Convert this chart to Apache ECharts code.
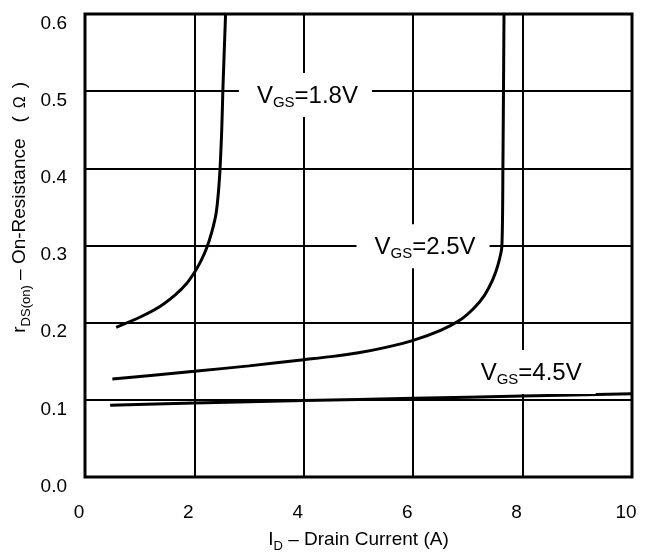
<!DOCTYPE html>
<html>
<head>
<meta charset="utf-8">
<script src="https://cdn.jsdelivr.net/npm/echarts@6/dist/echarts.min.js"></script>
<style>
html,body{margin:0;padding:0;background:#fff;}
#chart{width:646px;height:558px;}
</style>
</head>
<body>
<div id="chart"></div>
<script>
// ---- data (I_D in A, r_DS(on) in ohm) ----
const xTicks = [0, 2, 4, 6, 8, 10];
const yTicks = [0.0, 0.1, 0.2, 0.3, 0.4, 0.5, 0.6];

const vgs18 = [
  [0.57, 0.194], [1.0, 0.207], [1.37, 0.221], [1.65, 0.236], [1.85, 0.250],
  [2.0, 0.265], [2.12, 0.280], [2.22, 0.296], [2.32, 0.318], [2.40, 0.343],
  [2.46, 0.389], [2.50, 0.450], [2.52, 0.500], [2.57, 0.600]
];
const vgs25 = [
  [0.5, 0.127], [1.25, 0.132], [2.0, 0.137], [3.0, 0.144], [4.0, 0.152],
  [4.5, 0.156], [5.0, 0.161], [5.5, 0.168], [6.0, 0.177], [6.5, 0.190], [6.85, 0.203],
  [7.1, 0.218], [7.3, 0.235], [7.45, 0.255], [7.55, 0.275], [7.62, 0.298],
  [7.64, 0.400], [7.66, 0.600]
];
const vgs45 = [
  [0.46, 0.093], [2.0, 0.096], [4.0, 0.099], [6.0, 0.102], [8.0, 0.105], [10.0, 0.108]
];
const curveLabels = [
  { sub: 'GS', val: '=1.8V', at: [4.03, 0.495] },
  { sub: 'GS', val: '=2.5V', at: [6.18, 0.299] },
  { sub: 'GS', val: '=4.5V', at: [8.12, 0.136] }
];

const FONT = '"Liberation Sans", Arial, Helvetica, sans-serif';
const chart = echarts.init(document.getElementById('chart'), null, { renderer: 'canvas' });

function curve(data) {
  return {
    type: 'line', data: data, smooth: 0.25, symbol: 'none',
    lineStyle: { color: '#000', width: 3 }, z: 3, silent: true
  };
}

const option = {
  backgroundColor: '#fff',
  animation: false,
  grid: {
    left: 85, right: 14, top: 14, bottom: 70, show: true,
    borderColor: '#000', borderWidth: 3, backgroundColor: 'transparent'
  },
  xAxis: {
    type: 'value', min: xTicks[0], max: xTicks[xTicks.length - 1], interval: 2,
    axisLine: { show: false }, axisTick: { show: false },
    splitLine: { show: true, lineStyle: { color: '#000', width: 2 } },
    axisLabel: { color: '#000', fontFamily: FONT, fontSize: 19, margin: 26, padding: [0, 12, 0, 0] },
    name: '{m|I}{s|D}{m| – Drain Current (A)}',
    nameLocation: 'middle', nameGap: 50,
    nameTextStyle: {
      color: '#000', fontFamily: FONT, fontSize: 19,
      rich: {
        m: { fontFamily: FONT, fontSize: 19, color: '#000', verticalAlign: 'bottom', lineHeight: 22 },
        s: { fontFamily: FONT, fontSize: 13, color: '#000', verticalAlign: 'bottom', lineHeight: 22, padding: [0, 0, -4, 0] }
      }
    }
  },
  yAxis: {
    type: 'value', min: yTicks[0], max: yTicks[yTicks.length - 1], interval: 0.1,
    axisLine: { show: false }, axisTick: { show: false },
    splitLine: { show: true, lineStyle: { color: '#000', width: 2 } },
    axisLabel: {
      color: '#000', fontFamily: FONT, fontSize: 19, margin: 18, verticalAlign: 'top',
      formatter: v => v.toFixed(1)
    }
  },
  graphic: [{
    type: 'text', x: 18, y: 82, rotation: Math.PI / 2,
    style: {
      text: '{m|r}{s|DS(on)}{m| – On-Resistance   (}{o|Ω}{m|)}',
      align: 'right', verticalAlign: 'middle',
      fill: '#000', font: '19px ' + FONT,
      rich: {
        m: { fontFamily: FONT, fontSize: 19, fill: '#000', color: '#000', verticalAlign: 'bottom', lineHeight: 22 },
        s: { fontFamily: FONT, fontSize: 13, fill: '#000', color: '#000', verticalAlign: 'bottom', lineHeight: 22, padding: [0, 0, -4, 0] },
        o: { fontFamily: FONT, fontSize: 16, fill: '#000', color: '#000', verticalAlign: 'bottom', lineHeight: 22, padding: [0, 8, 0, 8] }
      }
    }
  }],
  series: [
    curve(vgs18), curve(vgs25), curve(vgs45),
    {
      type: 'scatter', symbolSize: 0, z: 5, silent: true,
      itemStyle: { opacity: 1 },
      emphasis: { disabled: true },
      data: curveLabels.map(l => ({ value: l.at, sub: l.sub, val: l.val })),
      label: {
        show: true, position: 'inside', opacity: 1,
        backgroundColor: '#ffffff', padding: [9, 14, 9, 18],
        formatter: p => '{v|V}{s|' + p.data.sub + '}{v|' + p.data.val + '}',
        rich: {
          v: { fontFamily: FONT, fontSize: 24, color: '#000', verticalAlign: 'bottom', lineHeight: 26 },
          s: { fontFamily: FONT, fontSize: 15, color: '#000', verticalAlign: 'bottom', lineHeight: 26, padding: [0, 0, -2, 0] }
        }
      }
    }
  ]
};
chart.setOption(option);
</script>
</body>
</html>
